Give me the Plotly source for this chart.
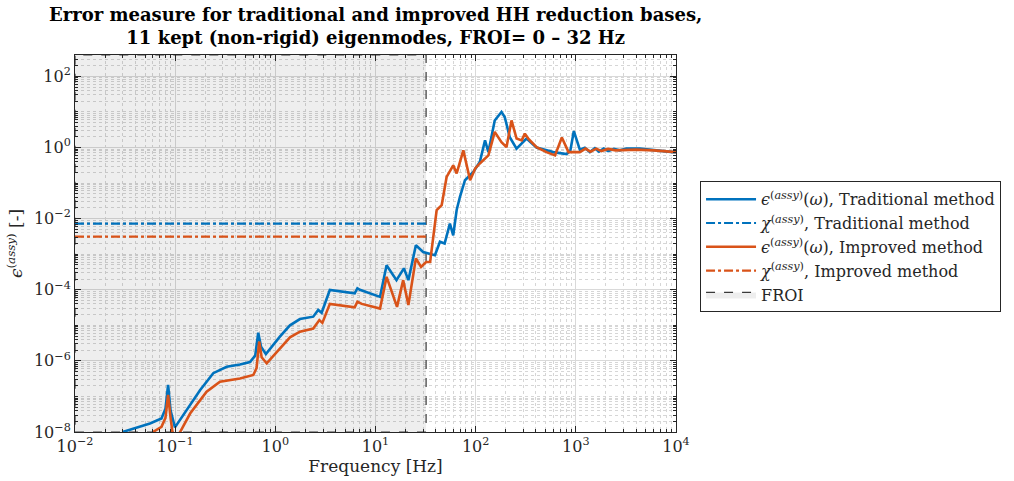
import plotly.graph_objects as go

# ---------------- data ----------------
freq_trad = [0.0299, 0.056, 0.073, 0.080, 0.085, 0.090, 0.0995, 0.13, 0.177, 0.24, 0.327, 0.444,
             0.558, 0.63, 0.675, 0.72, 0.805, 1.11, 1.4, 1.76, 2.39, 2.68, 2.9, 3.5, 5.15, 6.2,
             6.6, 6.98, 11.1, 12.9, 16.2, 19.2, 21.3, 25.3, 29.9, 37.7, 39.2, 44, 49, 55.3,
             59.7, 64.6, 69.7, 78.2, 94.7, 110, 124, 134, 155, 181, 195, 219, 256, 322, 405,
             595, 807, 880, 955, 1096, 1230, 1380, 1550, 1700, 1900, 2100, 2400, 2750, 3200,
             4350, 6000, 9300, 10000]
eps_trad = [1.0e-8, 1.74e-8, 2.4e-8, 4.5e-8, 2.1e-7, 4.0e-8, 1.35e-8, 4.2e-8, 1.5e-7, 4.5e-7,
            6.8e-7, 7.9e-7, 9.3e-7, 1.4e-6, 6.2e-6, 2.5e-6, 1.55e-6, 4.8e-6, 1.0e-5, 1.5e-5,
            1.75e-5, 2.7e-5, 2.25e-5, 9.8e-5, 8.7e-5, 7.9e-5, 1.1e-4, 1.0e-4, 6.3e-5, 4.9e-4,
            1.86e-4, 4.0e-4, 1.86e-4, 1.78e-3, 1.15e-3, 9.3e-4, 9.3e-4, 2.24e-3, 2.0e-3, 7.2e-3,
            3.4e-3, 0.0174, 0.041, 0.12, 0.204, 0.39, 1.58, 0.74, 5.75, 10.0, 7.2, 1.95, 0.93,
            1.78, 1.0, 0.74, 0.65, 0.79, 2.9, 0.87, 0.98, 0.74, 0.95, 0.76, 0.93, 0.79, 0.91,
            0.83, 0.93, 0.93, 0.83, 0.74, 0.74]

freq_impr = [0.06, 0.073, 0.080, 0.085, 0.090, 0.097, 0.112, 0.141, 0.206, 0.28, 0.444, 0.603,
             0.65, 0.69, 0.73, 0.82, 1.11, 1.4, 1.76, 2.39, 2.75, 2.95, 3.5, 5.15, 6.2, 6.6, 7.3,
             11.1, 12.9, 16.4, 18.9, 21.3, 25.3, 28.5, 32, 35.1, 37.7, 40.8, 45.8, 51.3, 59.7,
             64.6, 75.3, 88, 99, 110, 134, 155, 181, 203, 228, 256, 288, 310, 335, 405, 510,
             620, 725, 845, 1096, 1250, 1400, 1600, 1800, 2100, 2500, 4000, 6000, 10000]
eps_impr = [1.0e-8, 1.4e-8, 2.5e-8, 1.1e-7, 2.5e-8, 5e-9, 1.0e-8, 3.3e-8, 1.35e-7, 2.6e-7,
            3.2e-7, 4.0e-7, 6.3e-7, 3.5e-6, 1.26e-6, 8.5e-7, 2.2e-6, 4.6e-6, 6.6e-6, 8.1e-6,
            1.4e-5, 1.17e-5, 4.0e-5, 3.5e-5, 3.2e-5, 4.6e-5, 4.0e-5, 2.95e-5, 2.3e-4, 3.3e-5,
            1.86e-4, 3.7e-5, 7.6e-4, 4.4e-4, 6.0e-4, 6.0e-4, 3.1e-3, 0.0174, 0.024, 0.148,
            0.316, 0.186, 0.83, 0.12, 0.257, 0.355, 0.60, 2.75, 1.41, 1.02, 5.75, 1.78, 1.58,
            2.45, 1.78, 1.02, 0.74, 0.60, 1.9, 0.74, 0.74, 0.93, 0.76, 0.93, 0.79, 0.91, 0.83,
            0.87, 0.83, 0.74]

froi_limits = [0.01, 32]          # Hz
chi_trad = 0.0072
chi_impr = 0.0031

x_tick_vals = [1e-2, 1e-1, 1e0, 1e1, 1e2, 1e3, 1e4]
x_tick_text = ["10<sup>−2</sup>", "10<sup>−1</sup>", "10<sup>0</sup>", "10<sup>1</sup>",
               "10<sup>2</sup>", "10<sup>3</sup>", "10<sup>4</sup>"]
y_tick_vals = [1e-8, 1e-6, 1e-4, 1e-2, 1e0, 1e2]
y_tick_text = ["10<sup>−8</sup>", "10<sup>−6</sup>", "10<sup>−4</sup>", "10<sup>−2</sup>",
               "10<sup>0</sup>", "10<sup>2</sup>"]

title_lines = ["Error measure for traditional and improved HH reduction bases,",
               "11 kept (non-rigid) eigenmodes, FROI= 0 – 32 Hz"]

# ---------------- styling ----------------
BLUE = "#0072BD"
ORANGE = "#D95319"
FONT = "DejaVu Serif"
TXT = "#262626"
Y_TOP = 400

x_minor = [m * 10 ** e for e in range(-2, 4) for m in range(2, 10)]
y_minor = [m * 10 ** e for e in range(-8, 3) for m in range(1, 10)
           if not (m == 1 and e % 2 == 0)]

fig = go.Figure()

# FROI shaded region (drawn first so it sits under the curves)
fig.add_trace(go.Scatter(
    x=[froi_limits[0], froi_limits[1], froi_limits[1], froi_limits[0], froi_limits[0]],
    y=[1e-8, 1e-8, Y_TOP, Y_TOP, 1e-8],
    mode="lines", fill="toself", fillcolor="rgba(0,0,0,0.065)",
    line=dict(color="#3a3a3a", width=1.2, dash="dash"),
    name="FROI", legendrank=5, hoverinfo="skip"))

fig.add_trace(go.Scatter(
    x=freq_trad, y=eps_trad, mode="lines",
    line=dict(color=BLUE, width=2.6),
    name="<i>ϵ</i><sup>(<i>assy</i>)</sup>(<i>ω</i>), Traditional method", legendrank=1))
fig.add_trace(go.Scatter(
    x=froi_limits, y=[chi_trad, chi_trad], mode="lines",
    line=dict(color=BLUE, width=2.2, dash="dashdot"),
    name="<i>χ</i><sup>(<i>assy</i>)</sup>, Traditional method", legendrank=2))
fig.add_trace(go.Scatter(
    x=freq_impr, y=eps_impr, mode="lines",
    line=dict(color=ORANGE, width=2.6),
    name="<i>ϵ</i><sup>(<i>assy</i>)</sup>(<i>ω</i>), Improved method", legendrank=3))
fig.add_trace(go.Scatter(
    x=froi_limits, y=[chi_impr, chi_impr], mode="lines",
    line=dict(color=ORANGE, width=2.2, dash="dashdot"),
    name="<i>χ</i><sup>(<i>assy</i>)</sup>, Improved method", legendrank=4))

axis_common = dict(
    type="log", showline=True, linecolor=TXT, linewidth=1, mirror="allticks",
    ticks="inside", ticklen=6, tickcolor=TXT, automargin=False,
    showgrid=True, gridcolor="#d9d9d9", gridwidth=1, zeroline=False,
    tickfont=dict(family=FONT, size=16, color=TXT),
    title_font=dict(family=FONT, size=17, color=TXT),
)
minor_common = dict(ticks="inside", ticklen=3, tickcolor=TXT,
                    showgrid=True, gridcolor="#d6d6d6", griddash="dot", gridwidth=1)

fig.update_layout(
    width=1014, height=481,
    margin=dict(l=75, r=338, t=55, b=49),
    paper_bgcolor="white", plot_bgcolor="white",
    font=dict(family=FONT, size=16, color=TXT),
    xaxis=dict(axis_common, range=[-2, 4], tickvals=x_tick_vals, ticktext=x_tick_text,
               title=dict(text="Frequency [Hz]", standoff=4),
               minor=dict(minor_common, tickvals=x_minor)),
    yaxis=dict(axis_common, range=[-8, 2.6], tickvals=y_tick_vals, ticktext=y_tick_text,
               title=dict(text="<i>ϵ</i><sup>(<i>assy</i>)</sup> [-]", standoff=6),
               minor=dict(minor_common, tickvals=y_minor)),
    legend=dict(
        x=1.04, xanchor="left", y=0.665, yanchor="top",
        bgcolor="white", bordercolor=TXT, borderwidth=1,
        font=dict(family=FONT, size=16, color=TXT),
        itemwidth=50, tracegroupgap=0),
    showlegend=True,
    annotations=[dict(
        text="<b>" + "<br>".join(title_lines) + "</b>",
        xref="paper", yref="paper", x=0.5, y=1.14, xanchor="center", yanchor="top",
        showarrow=False, align="center",
        font=dict(family=FONT, size=18, color="#000000"))],
)

fig.write_html("out.html")
